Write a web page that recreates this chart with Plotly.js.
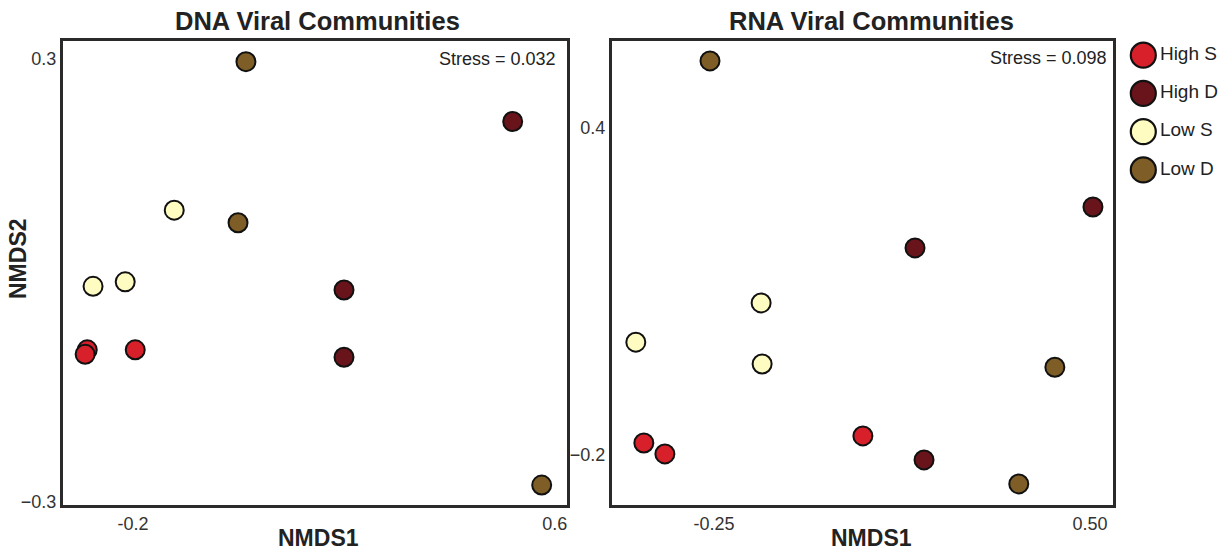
<!DOCTYPE html>
<html>
<head>
<meta charset="utf-8">
<script src="https://cdn.plot.ly/plotly-3.0.1.min.js"></script>
<style>html,body{margin:0;padding:0;background:#fff;}#chart{width:1231px;height:555px;}</style>
</head>
<body>
<div id="chart"></div>
<script>
// ---- data ----
const categories = ["High S", "High D", "Low S", "Low D"];
const colors = ["#D7202A", "#69141B", "#FFFCC2", "#7E5E26"];

// DNA viral communities NMDS scores per group
const dnaX = {
  "High S": [-0.287, -0.291, -0.196],
  "High D": [0.520, 0.200, 0.200],
  "Low S":  [-0.122, -0.276, -0.215],
  "Low D":  [0.014, -0.001, 0.575]
};
const dnaY = {
  "High S": [-0.094, -0.100, -0.094],
  "High D": [0.215, -0.013, -0.104],
  "Low S":  [0.095, -0.008, -0.002],
  "Low D":  [0.296, 0.078, -0.277]
};
// RNA viral communities NMDS scores per group
const rnaX = {
  "High S": [0.047, -0.390, -0.348],
  "High D": [0.506, 0.151, 0.169],
  "Low S":  [-0.156, -0.406, -0.154],
  "Low D":  [-0.258, 0.430, 0.358]
};
const rnaY = {
  "High S": [-0.165, -0.178, -0.198],
  "High D": [0.255, 0.180, -0.209],
  "Low S":  [0.079, 0.007, -0.033],
  "Low D":  [0.523, -0.039, -0.253]
};
const dnaTicksX = [-0.2, 0.6], dnaTicksXText = ["-0.2", "0.6"];
const dnaTicksY = [0.3, -0.3];
const rnaTicksX = [-0.25, 0.5], rnaTicksXText = ["-0.25", "0.50"];
const rnaTicksY = [0.4, -0.2];
const stressDNA = "Stress = 0.032", stressRNA = "Stress = 0.098";

// ---- build ----
const FONT = "Liberation Sans, Arial, sans-serif";
const traces = [];
categories.forEach((c, i) => {
  traces.push({type: "scatter", mode: "markers", x: dnaX[c], y: dnaY[c], xaxis: "x", yaxis: "y",
    name: c, showlegend: false,
    marker: {size: 19, color: colors[i], line: {color: "#111", width: 2}}});
  traces.push({type: "scatter", mode: "markers", x: rnaX[c], y: rnaY[c], xaxis: "x2", yaxis: "y2",
    name: c, showlegend: false,
    marker: {size: 19, color: colors[i], line: {color: "#111", width: 2}}});
});
// legend drawn as a small categorical panel
traces.push({type: "scatter", mode: "markers+text", x: categories.map(() => 0.21), y: categories,
  xaxis: "x3", yaxis: "y3", text: categories, textposition: "middle right",
  textfont: {family: FONT, size: 19, color: "#222"}, showlegend: false, hoverinfo: "skip",
  marker: {size: 25, color: colors, line: {color: "#111", width: 2.2}}});

const W = 1231, H = 555;
const px = v => v / W, py = v => 1 - v / H;
const frame = {showline: true, mirror: true, linewidth: 3, linecolor: "#2a2a2a",
  showgrid: false, zeroline: false, ticks: "", tickfont: {family: FONT, size: 18, color: "#333"}};

const layout = {
  width: W, height: H, margin: {l: 0, r: 0, t: 0, b: 0},
  paper_bgcolor: "#fff", plot_bgcolor: "#fff", showlegend: false,
  font: {family: FONT},
  xaxis: Object.assign({}, frame, {domain: [px(63), px(567)], range: [-0.333, 0.623],
    tickmode: "array", tickvals: dnaTicksX, ticktext: dnaTicksXText, anchor: "y"}),
  yaxis: Object.assign({}, frame, {domain: [py(505), py(41)], range: [-0.304, 0.324],
    tickmode: "array", tickvals: dnaTicksY, anchor: "x"}),
  xaxis2: Object.assign({}, frame, {domain: [px(612), px(1113)], range: [-0.4535, 0.546],
    tickmode: "array", tickvals: rnaTicksX, ticktext: rnaTicksXText, anchor: "y2"}),
  yaxis2: Object.assign({}, frame, {domain: [py(505), py(41)], range: [-0.2917, 0.5596],
    tickmode: "array", tickvals: rnaTicksY, anchor: "x2"}),
  xaxis3: {domain: [px(1120), 1], range: [0, 1], visible: false, fixedrange: true, anchor: "y3"},
  yaxis3: {domain: [py(189), py(36)], type: "category", range: [3.5, -0.5], visible: false, anchor: "x3"},
  annotations: [
    {text: "<b>DNA Viral Communities</b>", xref: "paper", yref: "paper", x: px(317), y: py(21),
      showarrow: false, xanchor: "center", yanchor: "middle", font: {family: FONT, size: 25.5, color: "#222"}},
    {text: "<b>RNA Viral Communities</b>", xref: "paper", yref: "paper", x: px(871), y: py(21),
      showarrow: false, xanchor: "center", yanchor: "middle", font: {family: FONT, size: 25.5, color: "#222"}},
    {text: "<b>NMDS1</b>", xref: "paper", yref: "paper", x: px(318), y: py(538),
      showarrow: false, xanchor: "center", yanchor: "middle", font: {family: FONT, size: 23, color: "#222"}},
    {text: "<b>NMDS1</b>", xref: "paper", yref: "paper", x: px(871), y: py(538),
      showarrow: false, xanchor: "center", yanchor: "middle", font: {family: FONT, size: 23, color: "#222"}},
    {text: "<b>NMDS2</b>", xref: "paper", yref: "paper", x: px(18), y: py(259), textangle: -90,
      showarrow: false, xanchor: "center", yanchor: "middle", font: {family: FONT, size: 23, color: "#222"}},
    {text: stressDNA, xref: "paper", yref: "paper", x: px(558), y: py(59),
      showarrow: false, xanchor: "right", yanchor: "middle", font: {family: FONT, size: 18, color: "#222"}},
    {text: stressRNA, xref: "paper", yref: "paper", x: px(1109), y: py(58),
      showarrow: false, xanchor: "right", yanchor: "middle", font: {family: FONT, size: 18, color: "#222"}}
  ]
};
Plotly.newPlot("chart", traces, layout, {staticPlot: true, displayModeBar: false});
</script>
</body>
</html>
